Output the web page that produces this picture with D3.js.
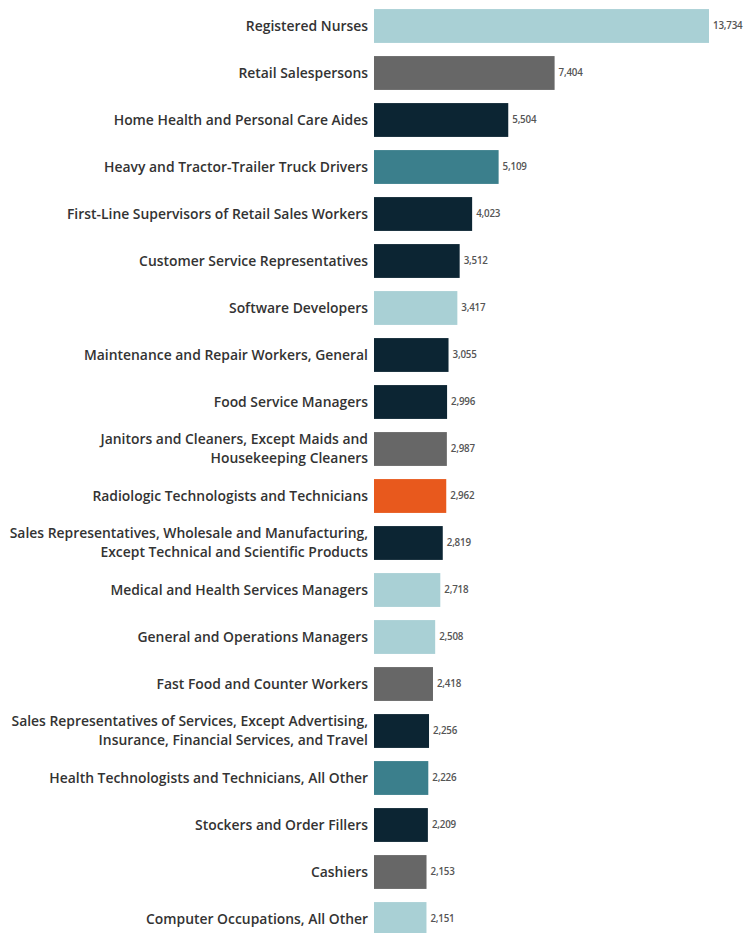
<!DOCTYPE html>
<html><head><meta charset="utf-8">
<script src="https://cdn.jsdelivr.net/npm/d3@7"></script>
<style>html,body{margin:0;padding:0;background:#fff;overflow:hidden}</style>
</head><body><svg id="c" width="744" height="933"></svg>
<script>
const categories = [
  "Registered Nurses",
  "Retail Salespersons",
  "Home Health and Personal Care Aides",
  "Heavy and Tractor-Trailer Truck Drivers",
  "First-Line Supervisors of Retail Sales Workers",
  "Customer Service Representatives",
  "Software Developers",
  "Maintenance and Repair Workers, General",
  "Food Service Managers",
  "Janitors and Cleaners, Except Maids and|Housekeeping Cleaners",
  "Radiologic Technologists and Technicians",
  "Sales Representatives, Wholesale and Manufacturing,|Except Technical and Scientific Products",
  "Medical and Health Services Managers",
  "General and Operations Managers",
  "Fast Food and Counter Workers",
  "Sales Representatives of Services, Except Advertising,|Insurance, Financial Services, and Travel",
  "Health Technologists and Technicians, All Other",
  "Stockers and Order Fillers",
  "Cashiers",
  "Computer Occupations, All Other"
];
const values = [13734, 7404, 5504, 5109, 4023, 3512, 3417, 3055, 2996, 2987, 2962, 2819, 2718, 2508, 2418, 2256, 2226, 2209, 2153, 2151];
const groups = ["light","gray","dark","teal","dark","dark","light","dark","dark","gray","orange","dark","light","light","gray","dark","teal","dark","gray","light"];
const groupColors = {light:"#a9d0d5", gray:"#676767", dark:"#0c2533", teal:"#3b7f8c", orange:"#e8591d"};

const svg = d3.select("#c");
const x = d3.scaleLinear().domain([0, 13734]).range([374, 709]);
const y = d3.scaleBand().domain(d3.range(categories.length)).range([2.5, 942.5]).paddingInner(0.28).paddingOuter(0.14);
const fmt = d3.format(",");

const g = svg.append("g");
g.selectAll("rect").data(values).join("rect")
  .attr("x", x(0)).attr("y", (d,i)=>y(i))
  .attr("width", d=>x(d)-x(0)).attr("height", y.bandwidth())
  .attr("fill", (d,i)=>groupColors[groups[i]]);

g.selectAll("text.v").data(values).join("text").attr("class","v")
  .attr("x", d=>x(d)+4).attr("y", (d,i)=>y(i)+y.bandwidth()/2)
  .attr("dy","0.35em")
  .attr("font-family","Open Sans, sans-serif").attr("font-size",9.8).attr("font-weight",600)
  .attr("letter-spacing","-0.2")
  .attr("fill","#555").text(d=>fmt(d));

const labels = g.selectAll("text.l").data(categories).join("text").attr("class","l")
  .attr("x", 368).attr("y", (d,i)=>y(i)+y.bandwidth()/2)
  .attr("text-anchor","end")
  .attr("font-family","Open Sans, sans-serif").attr("font-size",13.9).attr("font-weight",600)
  .attr("fill","#333");
labels.each(function(d){
  const parts = d.split("|");
  const t = d3.select(this);
  const y0 = +t.attr("y");
  parts.forEach((p,k)=>{
    t.append("tspan").attr("x",368)
     .attr("y", y0 + (k - (parts.length-1)/2) * 19)
     .attr("dy","0.35em")
     .text(p);
  });
});
</script></body></html>
